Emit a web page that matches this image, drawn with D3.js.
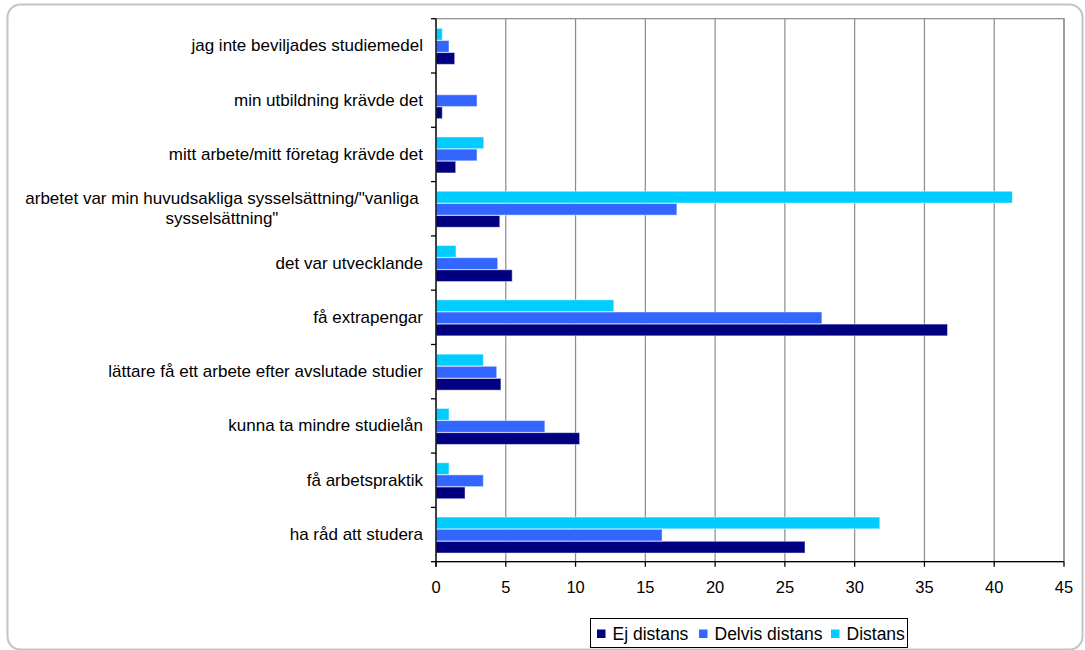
<!DOCTYPE html>
<html><head><meta charset="utf-8">
<script src="https://cdn.jsdelivr.net/npm/d3@7"></script>
<style>body{margin:0;background:#fff}svg{display:block;font-family:"Liberation Sans",Arial,sans-serif}</style>
</head><body><svg id="c" width="1085" height="650"></svg>
<script>
const categories = [
  "jag inte beviljades studiemedel",
  "min utbildning krävde det",
  "mitt arbete/mitt företag krävde det",
  "arbetet var min huvudsakliga sysselsättning/\"vanliga sysselsättning\"",
  "det var utvecklande",
  "få extrapengar",
  "lättare få ett arbete efter avslutade studier",
  "kunna ta mindre studielån",
  "få arbetspraktik",
  "ha råd att studera"
];
const labelLines = {
  "arbetet var min huvudsakliga sysselsättning/\"vanliga sysselsättning\"":
    ["arbetet var min huvudsakliga sysselsättning/\"vanliga", "sysselsättning\""]
};
const seriesNames = ["Ej distans", "Delvis distans", "Distans"];
const ejDistans     = [1.34, 0.45, 1.41, 4.57, 5.46, 36.65, 4.65, 10.29, 2.08, 26.44];
const delvisDistans = [0.93, 2.94, 2.94, 17.26, 4.42, 27.65, 4.35, 7.8, 3.39, 16.2];
const distans       = [0.45, 0, 3.42, 41.3, 1.43, 12.74, 3.39, 0.93, 0.93, 31.8];
const xTicks = [0, 5, 10, 15, 20, 25, 30, 35, 40, 45];
const colors = ["#000080", "#3366ff", "#00ccff"];

const seriesValues = [ejDistans, delvisDistans, distans];
const svg = d3.select("#c");

// outer border
svg.append("rect").attr("x", 7.5).attr("y", 4.5).attr("width", 1075).attr("height", 645)
  .attr("rx", 13).attr("fill", "#fff").attr("stroke", "#c4c4c4").attr("stroke-width", 2);

const L = 436, R = 1064, T = 18.7, B = 561.7;
const x = d3.scaleLinear().domain([0, 45]).range([L, R]);
const y = d3.scaleBand().domain(categories).range([T, B]).padding(0);
const bw = y.bandwidth();
const yInner = d3.scaleBand().domain(["Distans", "Delvis distans", "Ej distans"]).range([9.3, bw - 8.3]).padding(0.03);

// plot frame (gray)
svg.append("rect").attr("x", L).attr("y", T).attr("width", R - L).attr("height", B - T)
  .attr("fill", "none").attr("stroke", "#8a8a8a").attr("stroke-width", 1.2);
// gridlines
svg.append("g").selectAll("line").data(xTicks.slice(1)).join("line")
  .attr("x1", d => x(d)).attr("x2", d => x(d)).attr("y1", T).attr("y2", B)
  .attr("stroke", "#8a8a8a").attr("stroke-width", 1.2);

// bars
categories.forEach((c, i) => {
  const g = svg.append("g").attr("transform", `translate(0,${y(c)})`);
  seriesNames.forEach((s, j) => {
    const v = seriesValues[j][i];
    if (v <= 0) return;
    g.append("rect").attr("x", x(0)).attr("y", yInner(s))
      .attr("width", x(v) - x(0)).attr("height", yInner.bandwidth())
      .attr("fill", colors[j]).attr("stroke", "rgba(255,255,255,0.45)").attr("stroke-width", 1);
  });
});

// axes
const ax = svg.append("g").attr("stroke", "#000").attr("stroke-width", 1.3);
ax.append("line").attr("x1", L).attr("x2", R).attr("y1", B).attr("y2", B);
ax.append("line").attr("x1", L).attr("x2", L).attr("y1", T).attr("y2", B + 5);
ax.selectAll(".xt").data(xTicks).join("line").attr("class", "xt")
  .attr("x1", d => x(d)).attr("x2", d => x(d)).attr("y1", B).attr("y2", B + 5);
const bounds = categories.map(c => y(c)).concat([B]);
ax.selectAll(".yt").data(bounds).join("line").attr("class", "yt")
  .attr("x1", L - 5).attr("x2", L).attr("y1", d => d).attr("y2", d => d);

// x tick labels
svg.append("g").selectAll("text").data(xTicks).join("text")
  .attr("x", d => x(d)).attr("y", 593).attr("text-anchor", "middle")
  .attr("font-size", 16.5).attr("fill", "#000").text(d => d);

// category labels
categories.forEach(c => {
  const cy = y(c) + bw / 2;
  if (labelLines[c]) {
    const lines = labelLines[c];
    const t = svg.append("text").attr("text-anchor", "middle").attr("font-size", 17).attr("fill", "#000");
    lines.forEach((ln, k) => t.append("tspan").attr("x", 222).attr("y", cy - 4.5 + k * 19.5).text(ln));
  } else {
    svg.append("text").attr("x", 423).attr("y", cy + 5.5).attr("text-anchor", "end")
      .attr("font-size", 17).attr("fill", "#000").text(c);
  }
});

// legend
const lg = svg.append("g");
lg.append("rect").attr("x", 590.5).attr("y", 618.5).attr("width", 317).attr("height", 29)
  .attr("fill", "#fff").attr("stroke", "#000").attr("stroke-width", 1);
const legendX = [597, 699, 831];
seriesNames.forEach((s, j) => {
  lg.append("rect").attr("x", legendX[j]).attr("y", 629.5).attr("width", 8.5).attr("height", 8.5).attr("fill", colors[j]);
  lg.append("text").attr("x", legendX[j] + 15.5).attr("y", 640).attr("font-size", 17.5).attr("fill", "#000").text(s);
});
</script></body></html>
